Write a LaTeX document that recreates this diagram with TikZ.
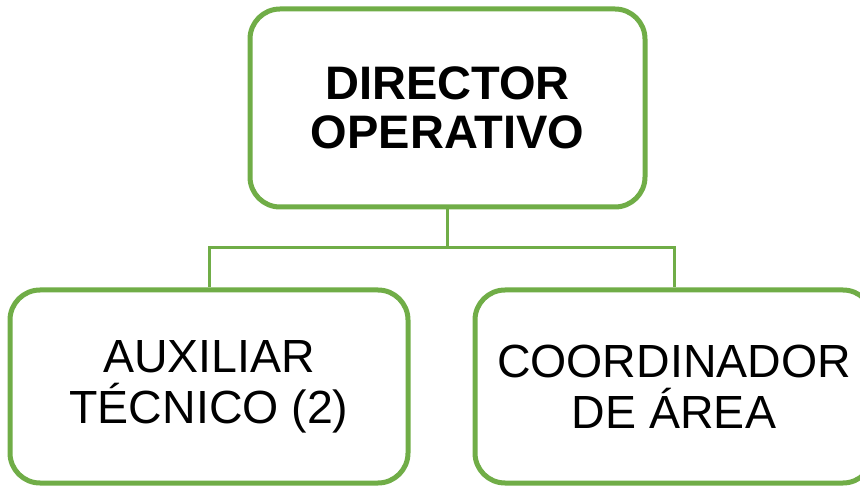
\documentclass[tikz,border=0pt]{standalone}
\usepackage{fontspec}
\setmainfont{Liberation Sans}
\usepackage{tikz}
\definecolor{verdecargo}{HTML}{70AD47}

\tikzset{
  cargo/.style={draw=verdecargo, line width=5pt, rounded corners=30pt, fill=white,
    align=center, inner sep=0pt, minimum width=398pt, minimum height=193pt,
    font=\fontsize{46.5}{51}\selectfont},
  jefe/.style={cargo, minimum width=395pt, minimum height=198pt,
    font=\fontsize{47}{49}\selectfont\bfseries},
  conector/.style={draw=verdecargo, line width=3pt}
}

\begin{document}
\begin{tikzpicture}[x=1pt, y=-1pt]
  \useasboundingbox (0,0) rectangle (860,486);
  \clip (0,0) rectangle (860,486);

    \draw (447.5,108) node[jefe] (director) {DIRECTOR\\OPERATIVO};
      \coordinate (rama) at (447.5,248);
   \draw (209,386.5) node[cargo] (auxiliar) {AUXILIAR\\TÉCNICO (2)};
   \draw (674,386.5) node[cargo] (coordinador) {COORDINADOR\\DE ÁREA};

     \draw[conector] (director.south) -- (rama);
     \draw[conector] (rama) -| (auxiliar.north);
     \draw[conector] (rama) -| (coordinador.north);

\end{tikzpicture}
\end{document}
